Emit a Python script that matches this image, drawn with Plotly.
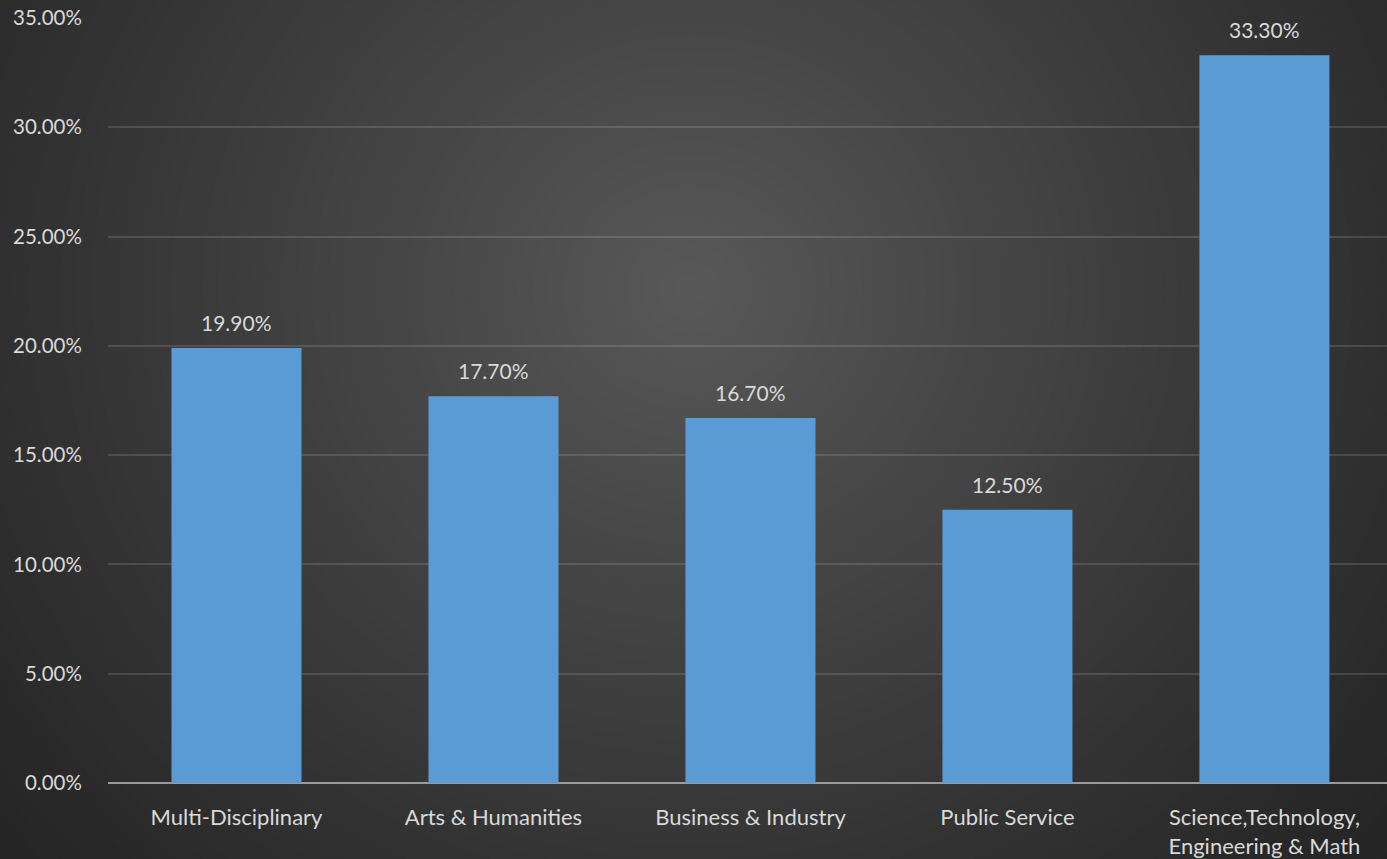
import plotly.graph_objects as go

categories = ["Multi-Disciplinary", "Arts & Humanities", "Business & Industry",
              "Public Service", "Science,Technology,<br>Engineering & Math"]
values = [19.9, 17.7, 16.7, 12.5, 33.3]
y_ticks = [0, 5, 10, 15, 20, 25, 30, 35]

W, H = 1387, 859
ML, MR, MT, MB = 108, 0, 18, 76
PW, PH = W - ML - MR, H - MT - MB
FONT = "Lato"

fig = go.Figure()
fig.add_trace(go.Bar(
    x=categories, y=values,
    marker=dict(color="#5b9bd5", line=dict(width=0)),
    hoverinfo="skip",
))

annotations = [
    dict(x=c, y=v, xref="x", yref="y", text=f"{v:.2f}%", showarrow=False,
         yanchor="bottom", yshift=11,
         font=dict(color="#d9d9d9", size=21, family=FONT))
    for c, v in zip(categories, values)
]

# radial gradient background built from concentric circles
shapes = []
cx, cy = 690, 290
N = 60
rmax = 900
for i in range(N):
    r = rmax * (1 - i / N)
    t = i / (N - 1)
    g = int(36 + (88 - 36) * t ** 1.1)
    col = f"rgb({g},{g},{g})"
    x0 = (cx - r * 1.05 - ML) / PW
    x1 = (cx + r * 1.05 - ML) / PW
    y0 = (H - MB - (cy + r)) / PH
    y1 = (H - MB - (cy - r)) / PH
    shapes.append(dict(type="circle", xref="paper", yref="paper",
                       x0=x0, x1=x1, y0=y0, y1=y1,
                       fillcolor=col, line=dict(width=0), layer="below"))

fig.update_layout(
    width=W, height=H,
    margin=dict(l=ML, r=MR, t=MT, b=MB, pad=0),
    paper_bgcolor="#262626",
    plot_bgcolor="rgba(0,0,0,0)",
    shapes=shapes,
    annotations=annotations,
    bargap=0.494,
    showlegend=False,
    font=dict(family=FONT, color="#d9d9d9", size=20),
    xaxis=dict(showgrid=False, showline=False, ticks="outside", ticklen=15,
               tickcolor="rgba(0,0,0,0)", range=[-0.5, 4.477],
               tickfont=dict(size=22, color="#d9d9d9"), zeroline=False),
    yaxis=dict(range=[0, 35], tickvals=y_ticks,
               ticktext=[f"{v:.2f}%" for v in y_ticks],
               showgrid=True, gridcolor="rgba(255,255,255,0.13)", gridwidth=1.5,
               zeroline=True, zerolinecolor="#9a9a9a", zerolinewidth=2,
               showline=False, ticks="outside", ticklen=21,
               tickcolor="rgba(0,0,0,0)",
               tickfont=dict(size=20.5, color="#d9d9d9")),
)

fig.write_html("out.html", config={"displayModeBar": False},
               post_script="document.body.style.margin='0';"
                           "document.body.style.overflow='hidden';")
